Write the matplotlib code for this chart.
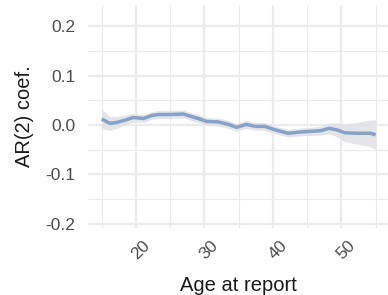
import numpy as np
import matplotlib.pyplot as plt
import matplotlib.transforms as mtransforms

# smoothed AR(2) coefficient by age
age = [15, 16.2, 17.2, 18.5, 19.6, 21.1, 22.3, 23.3, 25.0, 26.9, 28.1, 29.3,
       30.3, 32.0, 33.5, 34.7, 36.1, 37.4, 38.8, 40.3, 42.2, 44.4, 46.9, 48.2,
       49.3, 50.5, 52.2, 54.2, 55]
coef = [0.012, 0.003, 0.005, 0.010, 0.015, 0.013, 0.019, 0.021, 0.021, 0.022,
        0.017, 0.012, 0.007, 0.006, 0.001, -0.005, 0.001, -0.003, -0.003,
        -0.010, -0.017, -0.014, -0.012, -0.007, -0.010, -0.016, -0.017,
        -0.017, -0.020]
half_width = [0.020, 0.014, 0.012, 0.010, 0.009, 0.008, 0.008, 0.008, 0.008,
              0.008, 0.008, 0.008, 0.008, 0.008, 0.008, 0.008, 0.008, 0.008,
              0.008, 0.008, 0.008, 0.008, 0.009, 0.011, 0.014, 0.018, 0.022,
              0.027, 0.030]

x_ticks = [20, 30, 40, 50]
y_ticks = [-0.2, -0.1, 0.0, 0.1, 0.2]
y_tick_labels = ['-0.2', '-0.1', '0.0', '0.1', '0.2']

plt.rcParams['font.family'] = ['Liberation Sans', 'DejaVu Sans']

fig = plt.figure(figsize=(3.88, 2.95), dpi=100)
ax = fig.add_axes([88 / 388, 1 - 228 / 295, 300 / 388, 223 / 295])

age = np.array(age)
coef = np.array(coef)
hw = np.array(half_width)

ax.fill_between(age, coef - hw, coef + hw, color='#E1E3E6', alpha=0.9,
                linewidth=0, zorder=2)
ax.plot(age, coef, color='#86A2C6', linewidth=2.5, zorder=3,
        solid_capstyle='butt')

ax.set_xlim(13, 56.8)
ax.set_ylim(-0.209, 0.243)

ax.set_xticks(x_ticks)
ax.set_xticks([15, 25, 35, 45, 55], minor=True)
ax.set_yticks(y_ticks)
ax.set_yticklabels(y_tick_labels)
ax.set_yticks([-0.15, -0.05, 0.05, 0.15], minor=True)

ax.grid(which='major', color='#EBEBEB', linewidth=1.6, zorder=0)
ax.grid(which='minor', color='#EBEBEB', linewidth=0.8, zorder=0)
ax.set_axisbelow(True)

for s in ax.spines.values():
    s.set_visible(False)
ax.tick_params(which='both', length=0)
ax.tick_params(axis='y', labelsize=12.5, labelcolor='#4D4D4D', pad=9)
ax.tick_params(axis='x', labelsize=12.5, labelcolor='#4D4D4D', pad=7)

offset = mtransforms.ScaledTranslation(5 / 100, 0, fig.dpi_scale_trans)
for lab in ax.get_xticklabels():
    lab.set_rotation(45)
    lab.set_ha('center')
    lab.set_va('top')
    lab.set_transform(lab.get_transform() + offset)

ax.set_xlabel('Age at report', fontsize=14.5, color='#1A1A1A', labelpad=10)
ax.set_ylabel('AR(2) coef.', fontsize=14.5, color='#1A1A1A', labelpad=8)

fig.savefig('out.png', dpi=100)
